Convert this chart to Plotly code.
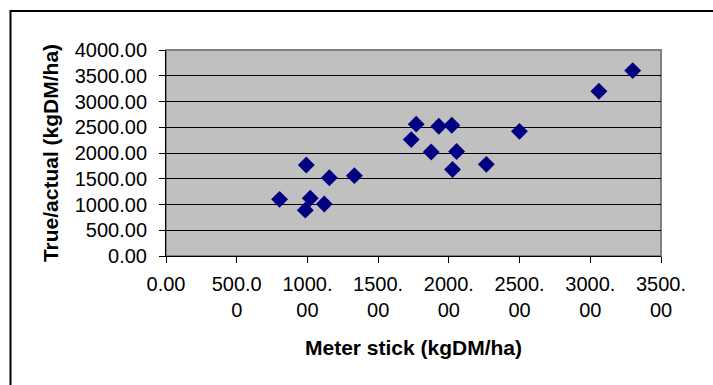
import plotly.graph_objects as go

meter_stick = [803, 992, 1020, 985, 1119, 1155, 1332, 1769, 1734, 1929, 2021,
               1875, 2055, 2026, 2265, 2499, 3300, 3061]
true_actual = [1100, 1767, 1120, 890, 1010, 1520, 1560, 2560, 2260, 2520, 2540,
               2020, 2030, 1680, 1780, 2420, 3600, 3200]

x_tickvals = [0, 500, 1000, 1500, 2000, 2500, 3000, 3500]
x_ticktext = ["0.00", "500.0<br>0", "1000.<br>00", "1500.<br>00", "2000.<br>00",
              "2500.<br>00", "3000.<br>00", "3500.<br>00"]
y_tickvals = [0, 500, 1000, 1500, 2000, 2500, 3000, 3500, 4000]
y_ticktext = ["0.00", "500.00", "1000.00", "1500.00", "2000.00", "2500.00",
              "3000.00", "3500.00", "4000.00"]

FONT = "Liberation Sans, Arial, sans-serif"

fig = go.Figure()
fig.add_trace(go.Scatter(
    x=meter_stick, y=true_actual, mode="markers",
    marker=dict(symbol="diamond", size=13, color="#000080",
                line=dict(width=0)),
    showlegend=False, hoverinfo="x+y"))

W, H = 713, 385
L, R, T, B = 166, 52, 50, 129
pw, ph = W - L - R, H - T - B

def px_x(p):
    return (p - L) / pw

def px_y(p):
    return (H - B - p) / ph

fig.update_layout(
    width=W, height=H,
    margin=dict(l=L, r=R, t=T, b=B, pad=0),
    paper_bgcolor="white",
    plot_bgcolor="#C0C0C0",
    font=dict(family=FONT, size=20, color="black"),
    xaxis=dict(
        range=[0, 3500], tickmode="array", tickvals=x_tickvals, ticktext=x_ticktext,
        showgrid=False, zeroline=False, showline=True, linecolor="black", linewidth=1,
        ticks="outside", ticklen=6, tickcolor="black", tickwidth=1,
        ticklabelstandoff=4,
        tickfont=dict(family=FONT, size=20, color="black"),
        title=dict(text="<b>Meter stick (kgDM/ha)</b>", standoff=20,
                   font=dict(family=FONT, size=21, color="black")),
    ),
    yaxis=dict(
        range=[0, 4000], tickmode="array", tickvals=y_tickvals, ticktext=y_ticktext,
        showgrid=True, gridcolor="black", gridwidth=1,
        zeroline=False, showline=True, linecolor="black", linewidth=1,
        ticks="outside", ticklen=6, tickcolor="black", tickwidth=1,
        ticklabelstandoff=8,
        tickfont=dict(family=FONT, size=20, color="black"),
        title=dict(text="<b>True/actual (kgDM/ha)</b>", standoff=10,
                   font=dict(family=FONT, size=21, color="black")),
    ),
    shapes=[
        dict(type="rect", xref="paper", yref="paper", x0=0, x1=1, y0=0, y1=1,
             line=dict(color="#808080", width=2), fillcolor="rgba(0,0,0,0)",
             layer="below"),
        dict(type="rect", xref="paper", yref="paper",
             x0=px_x(10.5), x1=px_x(730), y0=px_y(400), y1=px_y(11),
             line=dict(color="black", width=2), fillcolor="rgba(0,0,0,0)",
             layer="below"),
    ],
)

fig.write_html("out.html")
